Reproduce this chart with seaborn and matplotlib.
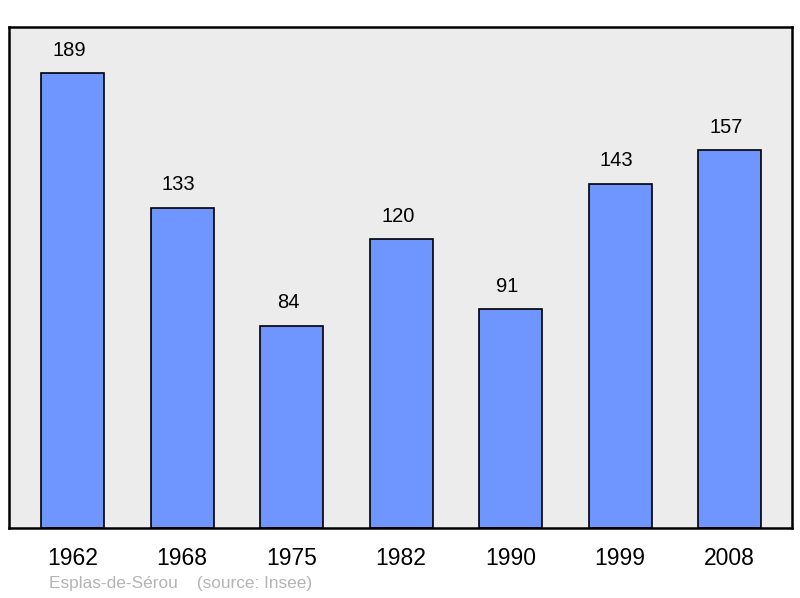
import matplotlib
matplotlib.use("Agg")
import matplotlib.pyplot as plt
import pandas as pd
import seaborn as sns

# population data
years = ["1962", "1968", "1975", "1982", "1990", "1999", "2008"]
population = [189, 133, 84, 120, 91, 143, 157]
commune = "Esplas-de-Sérou"
source = "(source: Insee)"

df = pd.DataFrame({"Year": years, "Population": population})

sns.set_style("white")
plt.rcParams["font.family"] = ["Liberation Sans", "DejaVu Sans"]

fig = plt.figure(figsize=(8, 5.98), dpi=100)
ax = fig.add_axes([0.01125, 0.1171, 0.97875, 0.8377])
ax.set_facecolor("#ececec")

sns.barplot(data=df, x="Year", y="Population", color="#6f95ff", saturation=1,
            width=0.575, edgecolor="black", linewidth=1.2, ax=ax)

for i, v in enumerate(population):
    ax.text(i - 0.03, v + 5.5, str(v), ha="center", va="bottom", fontsize=14.5, color="black")

ax.set_xlim(-0.58, 6.57)
ax.set_ylim(0, 208)
ax.set_yticks([])
ax.set_xlabel("")
ax.set_ylabel("")
ax.tick_params(axis="x", length=0, labelsize=16.5, pad=14, labelcolor="black")
for s in ax.spines.values():
    s.set_visible(True)
    s.set_color("black")
    s.set_linewidth(1.8)

fig.text(0.061, 0.012, commune + "    " + source, fontsize=12.4, color="#b4b4b4",
         ha="left", va="bottom")

fig.savefig("out.png", dpi=100)
